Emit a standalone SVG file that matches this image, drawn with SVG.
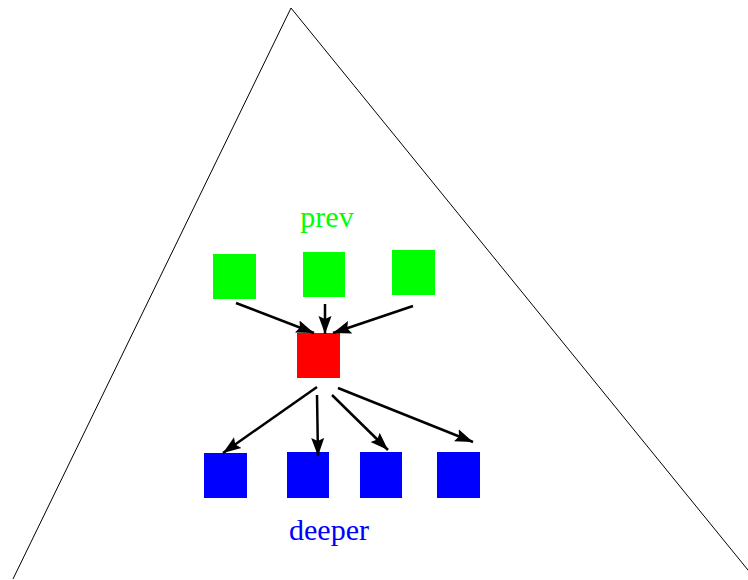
<svg xmlns="http://www.w3.org/2000/svg" width="748" height="580" viewBox="0 0 748 580">
<style>
.tri{fill:none;stroke:#000;stroke-width:1}
.g{fill:#00ff00}
.r{fill:#ff0000}
.b{fill:#0000ff}
.c{stroke:#000;stroke-width:2.5;fill:none;marker-end:url(#ah)}
.lbl{font-family:"Liberation Serif",serif;font-size:30px;text-anchor:middle}
</style>
<defs>
<marker id="ah" markerUnits="userSpaceOnUse" markerWidth="20" markerHeight="14" refX="18" refY="7" orient="auto">
<path d="M0,0.5 L18,7 L0,13.5 L3,7 Z" fill="#000"/>
</marker>
<linearGradient id="fade" x1="0" x2="1" y1="0" y2="0">
<stop offset="0" stop-color="#000"/>
<stop offset="1" stop-color="#000" stop-opacity="0"/>
</linearGradient>
</defs>
<g id="triangle">
<path class="tri" d="M13,579 L291,8 L752,575"/>
<line x1="13" y1="579" x2="100" y2="579" stroke="url(#fade)" stroke-width="1"/>
</g>
<g id="prev-label"><text class="lbl" x="327" y="227" fill="#00ff00">prev</text></g>
<g id="prev1"><rect class="g" x="213" y="254" width="43" height="45"/></g>
<g id="prev2"><rect class="g" x="303" y="252" width="42" height="45"/></g>
<g id="prev3"><rect class="g" x="392" y="250" width="43" height="45"/></g>
<g id="current"><rect class="r" x="297" y="333" width="43" height="45"/></g>
<g id="deeper1"><rect class="b" x="204" y="453" width="43" height="45"/></g>
<g id="deeper2"><rect class="b" x="287" y="452" width="42" height="46"/></g>
<g id="deeper3"><rect class="b" x="360" y="452" width="42" height="46"/></g>
<g id="deeper4"><rect class="b" x="437" y="452" width="43" height="46"/></g>
<g id="deeper-label"><text class="lbl" x="329" y="540" fill="#0000ff">deeper</text></g>
<g id="connectors">
<line class="c" x1="236" y1="303" x2="314" y2="333"/>
<line class="c" x1="325" y1="304" x2="325" y2="334"/>
<line class="c" x1="413" y1="306" x2="333" y2="333"/>
<line class="c" x1="317" y1="387" x2="223" y2="453"/>
<line class="c" x1="317" y1="395" x2="318" y2="456"/>
<line class="c" x1="332" y1="395" x2="388" y2="450"/>
<line class="c" x1="338" y1="388" x2="473" y2="442"/>
</g>
</svg>
